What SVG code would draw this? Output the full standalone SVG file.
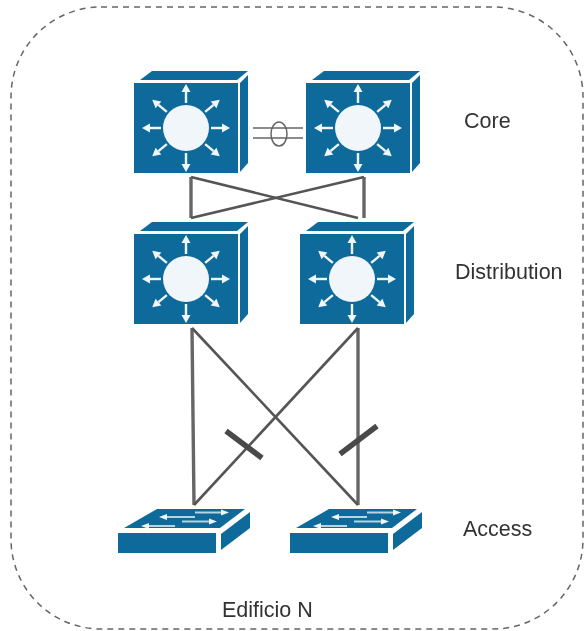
<svg xmlns="http://www.w3.org/2000/svg" width="585" height="631" viewBox="0 0 585 631">
<style>
.b{fill:#0f6b9b}
.h{fill:#f0f6f9}
.s{fill:none;stroke:#f0f6f9;stroke-width:2.4}
.m{fill:none;stroke:#b9d3e0;stroke-width:2}
.l{fill:none;stroke:#555;stroke-width:2.6;stroke-linejoin:round}
.v{fill:none;stroke:#666;stroke-width:3.4}
.t{fill:none;stroke:#4a4a4a;stroke-width:5.5}
.thin{fill:none;stroke:#666;stroke-width:1.5}
text{font-family:"Liberation Sans",Arial,sans-serif;font-size:21.5px;fill:#333}
</style>
<defs>
<filter id="soft" filterUnits="userSpaceOnUse" x="0" y="0" width="585" height="631"><feGaussianBlur stdDeviation="0.7"/></filter>
<g id="arrow"><path class="s" d="M0 -25V-36"/><path class="h" d="M-4.500 -36L0 -44L4.500 -36Z"/></g>
<g id="l3">
<path class="b" d="M140 80L152 71H248L237 80Z"/>
<path class="b" d="M240 83L248 75V163L240 172Z"/>
<rect class="b" x="134" y="83" width="104" height="90"/>
<g transform="translate(186 128)">
<circle r="23" class="h"/>
<use href="#arrow"/>
<use href="#arrow" transform="rotate(50)"/>
<use href="#arrow" transform="rotate(90)"/>
<use href="#arrow" transform="rotate(130)"/>
<use href="#arrow" transform="rotate(180)"/>
<use href="#arrow" transform="rotate(230)"/>
<use href="#arrow" transform="rotate(270)"/>
<use href="#arrow" transform="rotate(310)"/>
</g>
</g>
<g id="l2">
<path class="b" d="M124 528L157 509H245L220 528Z"/>
<path class="b" d="M221 534L250 512V528L221 550Z"/>
<rect class="b" x="118" y="533" width="98" height="20"/>
<path class="m" d="M195 512.500H222M165 517H195M182 521.500H210M147 526H175"/>
<path class="h" d="M221 509.500L229 512.500L221 515.500ZM209 518.500L217 521.500L209 524.500ZM167 514L159 517L167 520ZM149 523L141 526L149 529Z"/>
</g>
</defs>
<g filter="url(#soft)">
<g id="frame"><rect x="11" y="7" width="572" height="622" rx="90" ry="90" fill="none" stroke="#666" stroke-width="1.5" stroke-dasharray="6 5"/></g>
<g id="connectors">
<path class="v" d="M191 177V218"/>
<path class="v" d="M364 177V218"/>
<path class="l" d="M191 177L358 218"/>
<path class="l" d="M364 177L191 218"/>
<path class="v" d="M192 328L194 505"/>
<path class="v" d="M358 328V505"/>
<path class="l" d="M192 328L358 505"/>
<path class="l" d="M358 328L194 505"/>
<path class="t" d="M226 431L262 458"/>
<path class="t" d="M340 454L377 426"/>
<path class="thin" d="M253 128H303M253 138H303"/>
<ellipse class="thin" cx="279" cy="134" rx="8" ry="12"/>
</g>
<g id="core-1"><use href="#l3"/></g>
<g id="core-2"><use href="#l3" x="172"/></g>
<g id="distribution-1"><use href="#l3" y="151"/></g>
<g id="distribution-2"><use href="#l3" x="166" y="151"/></g>
<g id="access-1"><use href="#l2"/></g>
<g id="access-2"><use href="#l2" x="172"/></g>
<g id="label-core"><text x="464" y="128">Core</text></g>
<g id="label-distribution"><text x="455" y="279">Distribution</text></g>
<g id="label-access"><text x="463" y="536">Access</text></g>
<g id="label-building"><text x="222" y="617">Edificio N</text></g>
</g>
</svg>
